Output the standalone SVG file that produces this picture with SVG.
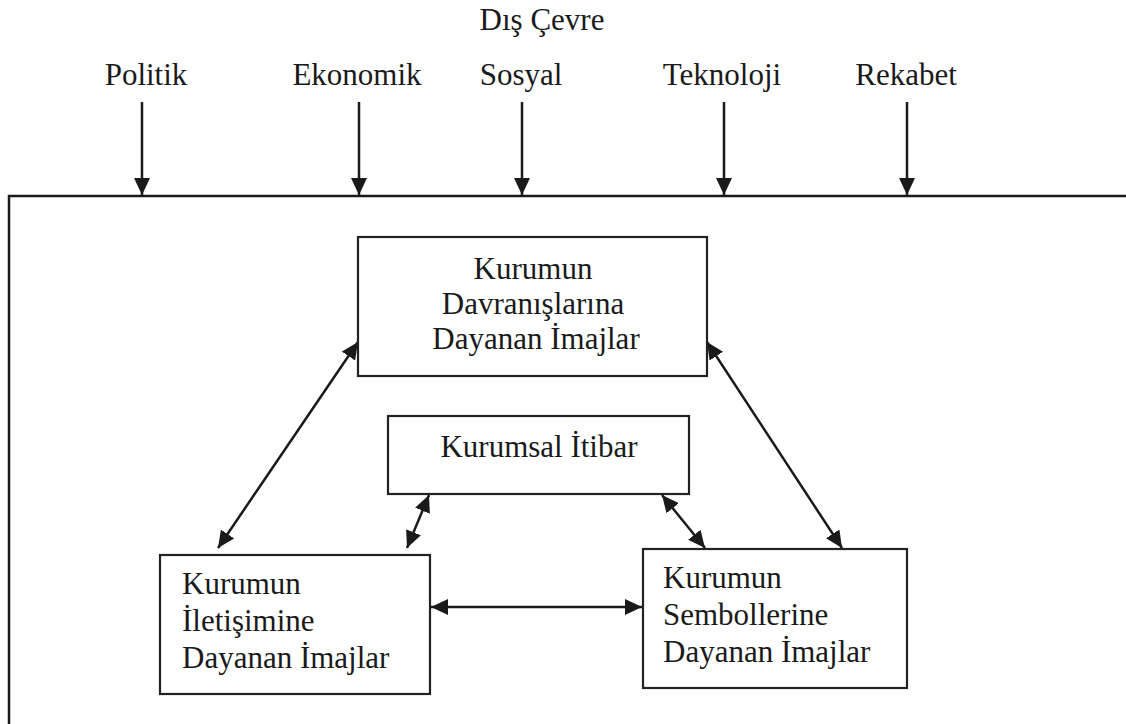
<svg xmlns="http://www.w3.org/2000/svg" width="1126" height="724" viewBox="0 0 1126 724">
<style>
text{font-family:"Liberation Serif","Times New Roman",serif;font-size:31px;fill:#1a1a1a}
.box{fill:#fff;stroke:#222;stroke-width:2.2}
.c{text-anchor:middle}
.ln{stroke:#1a1a1a;stroke-width:2.5;fill:none}
</style>
<defs>
<marker id="ah" viewBox="0 0 17 16" refX="17" refY="8" markerWidth="17" markerHeight="16" markerUnits="userSpaceOnUse" orient="auto-start-reverse">
<path d="M0,0 L17,8 L0,16 z" fill="#1a1a1a"/>
</marker>
</defs>
<rect width="1126" height="724" fill="#fff"/>
<g id="outer">
<path d="M1126,196 H9 V724" class="ln" stroke-width="2.2"/>
</g>
<g id="labels">
<text class="c" x="542" y="30">Dış Çevre</text>
<text class="c" x="146" y="85">Politik</text>
<text class="c" x="357" y="85">Ekonomik</text>
<text class="c" x="521" y="85">Sosyal</text>
<text class="c" x="722" y="85">Teknoloji</text>
<text class="c" x="906" y="85">Rekabet</text>
</g>
<g id="connectors">
<line class="ln" x1="142" y1="102" x2="142" y2="195" marker-end="url(#ah)"/>
<line class="ln" x1="359" y1="102" x2="359" y2="195" marker-end="url(#ah)"/>
<line class="ln" x1="522" y1="102" x2="522" y2="195" marker-end="url(#ah)"/>
<line class="ln" x1="724" y1="102" x2="724" y2="195" marker-end="url(#ah)"/>
<line class="ln" x1="907" y1="102" x2="907" y2="195" marker-end="url(#ah)"/>
<line class="ln" x1="358" y1="342" x2="218" y2="548" marker-start="url(#ah)" marker-end="url(#ah)"/>
<line class="ln" x1="707" y1="342" x2="842" y2="548" marker-start="url(#ah)" marker-end="url(#ah)"/>
<line class="ln" x1="429" y1="495" x2="407" y2="548" marker-start="url(#ah)" marker-end="url(#ah)"/>
<line class="ln" x1="662" y1="495" x2="705" y2="548" marker-start="url(#ah)" marker-end="url(#ah)"/>
<line class="ln" x1="431" y1="607" x2="642" y2="607" marker-start="url(#ah)" marker-end="url(#ah)"/>
</g>
<g id="davranis">
<rect class="box" x="358" y="237" width="349" height="139"/>
<text class="c" x="533" y="279">Kurumun</text>
<text class="c" x="533" y="314">Davranışlarına</text>
<text class="c" x="536" y="349">Dayanan İmajlar</text>
</g>
<g id="itibar">
<rect class="box" x="388" y="416" width="301" height="78"/>
<text class="c" x="539" y="457">Kurumsal İtibar</text>
</g>
<g id="iletisim">
<rect class="box" x="160" y="555" width="270" height="139"/>
<text x="182" y="594">Kurumun</text>
<text x="182" y="631">İletişimine</text>
<text x="182" y="668">Dayanan İmajlar</text>
</g>
<g id="sembol">
<rect class="box" x="643" y="549" width="264" height="139"/>
<text x="663" y="588">Kurumun</text>
<text x="663" y="625">Sembollerine</text>
<text x="663" y="662">Dayanan İmajlar</text>
</g>
</svg>
